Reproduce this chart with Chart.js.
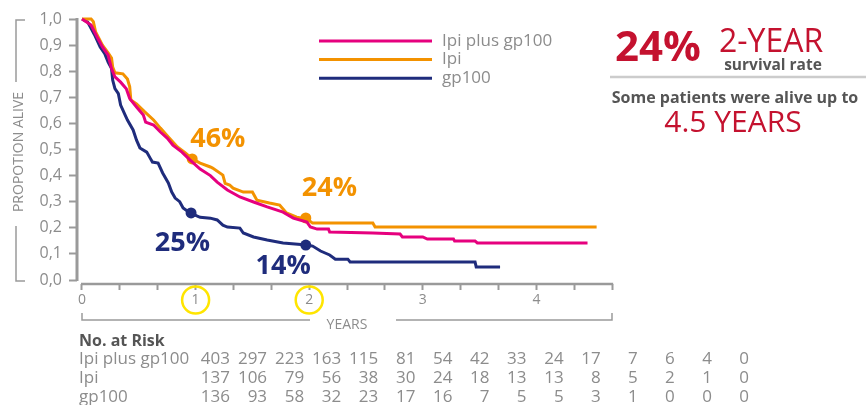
<!DOCTYPE html>
<html lang="en">
<head>
<meta charset="UTF-8">
<title>Overall survival - Ipi plus gp100 / Ipi / gp100</title>
<script src="https://cdn.jsdelivr.net/npm/chart.js"></script>
<style>
  body { margin: 0; padding: 0; background: #ffffff; }
  .wrap { position: relative; width: 866px; height: 405px; }
</style>
</head>
<body>
<div class="wrap"><canvas id="km" width="866" height="405"></canvas></div>
<script>
// survival curves, time in years, proportion alive
const comboT = [0, 0.08, 0.14, 0.18, 0.23, 0.26, 0.29, 0.34, 0.39, 0.42, 0.48, 0.54, 0.56, 0.63, 0.69, 0.75, 0.80, 0.88, 0.95, 1.04,
  1.13, 1.19, 1.28, 1.39, 1.51, 1.63, 1.77, 1.86, 1.98, 2.01, 2.07, 2.17, 2.18, 2.56, 2.80, 2.82, 3.00, 3.04, 3.27, 3.28, 3.46, 3.48, 4.45];
const comboS = [1.0, 0.977, 0.925, 0.893, 0.862, 0.81, 0.778, 0.758, 0.733, 0.695, 0.663, 0.632, 0.605, 0.594, 0.567, 0.544, 0.517, 0.49, 0.46, 0.425,
  0.40, 0.375, 0.345, 0.318, 0.299, 0.28, 0.26, 0.237, 0.222, 0.203, 0.195, 0.195, 0.184, 0.18, 0.176, 0.165, 0.165, 0.157, 0.157, 0.149, 0.149, 0.142, 0.142];

const ipiT = [0, 0.08, 0.10, 0.12, 0.18, 0.23, 0.26, 0.27, 0.29, 0.36, 0.40, 0.42, 0.43, 0.48, 0.55, 0.63, 0.69, 0.76, 0.84, 0.91,
  0.97, 1.04, 1.13, 1.15, 1.24, 1.26, 1.30, 1.33, 1.42, 1.50, 1.54, 1.65, 1.74, 1.80, 1.89, 1.98, 2.03, 2.56, 2.58, 4.53];
const ipiS = [1.0, 1.0, 0.99, 0.95, 0.90, 0.87, 0.85, 0.816, 0.794, 0.79, 0.77, 0.74, 0.69, 0.675, 0.645, 0.613, 0.582, 0.548, 0.51, 0.487,
  0.464, 0.448, 0.433, 0.429, 0.402, 0.37, 0.364, 0.352, 0.337, 0.337, 0.306, 0.295, 0.287, 0.257, 0.241, 0.234, 0.218, 0.218, 0.203, 0.203];

const gpT = [0, 0.05, 0.11, 0.16, 0.20, 0.23, 0.26, 0.27, 0.29, 0.32, 0.34, 0.38, 0.40, 0.45, 0.48, 0.51, 0.57, 0.60, 0.62, 0.67,
  0.71, 0.76, 0.79, 0.82, 0.86, 0.89, 0.95, 1.04, 1.13, 1.19, 1.24, 1.28, 1.39, 1.42, 1.51, 1.63, 1.77, 1.98, 2.03, 2.10,
  2.18, 2.23, 2.34, 2.36, 3.46, 3.47, 3.68];
const gpS = [1.0, 0.988, 0.94, 0.893, 0.867, 0.835, 0.81, 0.766, 0.733, 0.714, 0.67, 0.632, 0.613, 0.575, 0.536, 0.506, 0.49, 0.467, 0.452, 0.448,
  0.41, 0.372, 0.337, 0.314, 0.30, 0.276, 0.257, 0.24, 0.237, 0.23, 0.21, 0.203, 0.199, 0.18, 0.165, 0.153, 0.142, 0.134, 0.13, 0.111,
  0.096, 0.08, 0.08, 0.069, 0.069, 0.05, 0.05];

// highlighted 1- and 2-year points
const ipiMarkT = [0.97, 1.97];
const ipiMarkS = [0.464, 0.238];
const ipiMarkText = ['46%', '24%'];
const gpMarkT = [0.96, 1.97];
const gpMarkS = [0.257, 0.134];
const gpMarkText = ['25%', '14%'];

// axes
const yTicks = [0, 0.1, 0.2, 0.3, 0.4, 0.5, 0.6, 0.7, 0.8, 0.9, 1.0];
const xTickMonths = [0, 4, 8, 12, 16, 20, 24, 28, 32, 36, 40, 44, 48, 52, 56];
const circledYears = [1, 2];

// number at risk table
const riskRows = ['Ipi plus gp100', 'Ipi', 'gp100'];
const riskCombo = [403, 297, 223, 163, 115, 81, 54, 42, 33, 24, 17, 7, 6, 4, 0];
const riskIpi = [137, 106, 79, 56, 38, 30, 24, 18, 13, 13, 8, 5, 2, 1, 0];
const riskGp = [136, 93, 58, 32, 23, 17, 16, 7, 5, 5, 3, 1, 0, 0, 0];

const PINK = '#e6007e', ORANGE = '#f39200', NAVY = '#1f2c7c', RED = '#c4122f';
const GREY = '#8c8c8c', DARK = '#555555', AXIS = '#9a9a9a';
const FONT = "'Open Sans', sans-serif";

const toPoints = (t, s) => t.map((v, i) => ({ x: v, y: s[i] }));

const extras = {
  id: 'extras',
  afterDraw(chart) {
    const ctx = chart.ctx;
    const xs = chart.scales.x, ys = chart.scales.y;
    const ca = chart.chartArea;
    ctx.save();

    // axis lines
    ctx.strokeStyle = AXIS;
    ctx.lineWidth = 3;
    ctx.beginPath();
    ctx.moveTo(ca.left, ys.getPixelForValue(1) - 1);
    ctx.lineTo(ca.left, ys.getPixelForValue(0) + 1);
    ctx.stroke();
    ctx.lineWidth = 2.5;
    ctx.beginPath();
    ctx.moveTo(xs.getPixelForValue(0) - 1, ca.bottom);
    ctx.lineTo(xs.getPixelForValue(56 / 12) + 1, ca.bottom);
    ctx.stroke();

    // yellow circles round year 1 and 2
    ctx.strokeStyle = '#ffe500';
    ctx.lineWidth = 2.5;
    circledYears.forEach(v => {
      ctx.beginPath();
      ctx.arc(xs.getPixelForValue(v), 300, 13.5, 0, Math.PI * 2);
      ctx.stroke();
    });

    // YEARS bracket
    ctx.strokeStyle = AXIS;
    ctx.lineWidth = 1.5;
    ctx.beginPath();
    ctx.moveTo(82, 313); ctx.lineTo(82, 320); ctx.lineTo(310, 320);
    ctx.moveTo(396, 320); ctx.lineTo(612, 320); ctx.lineTo(612, 313);
    ctx.stroke();
    ctx.fillStyle = GREY;
    ctx.font = '14px ' + FONT;
    ctx.textAlign = 'center';
    ctx.textBaseline = 'alphabetic';
    ctx.fillText('YEARS', 347, 329);

    // y title bracket
    ctx.beginPath();
    ctx.moveTo(25, 20); ctx.lineTo(16, 20); ctx.lineTo(16, 82);
    ctx.moveTo(16, 226); ctx.lineTo(16, 281); ctx.lineTo(25, 281);
    ctx.stroke();
    ctx.save();
    ctx.translate(19, 152);
    ctx.rotate(-Math.PI / 2);
    ctx.textBaseline = 'middle';
    ctx.fillText('PROPOTION ALIVE', 0, 0);
    ctx.restore();

    // legend
    ctx.textAlign = 'left';
    ctx.textBaseline = 'middle';
    ctx.font = '17px ' + FONT;
    [0, 1, 2].forEach((di, i) => {
      const ds = chart.data.datasets[di];
      const y = 41 + i * 18.6;
      ctx.strokeStyle = ds.borderColor;
      ctx.lineWidth = 3;
      ctx.beginPath();
      ctx.moveTo(319, y); ctx.lineTo(432, y);
      ctx.stroke();
      ctx.fillStyle = GREY;
      ctx.fillText(ds.label, 442, y);
    });

    // marker labels
    const labelStyle = [
      { ds: 3, idx: 0, dx: -2, dy: -20, align: 'left' },
      { ds: 3, idx: 1, dx: -4, dy: -30, align: 'left' },
      { ds: 4, idx: 0, dx: 19, dy: 30, align: 'right' },
      { ds: 4, idx: 1, dx: 5, dy: 21, align: 'right' }
    ];
    ctx.font = 'bold 27px ' + FONT;
    labelStyle.forEach(st => {
      const pt = chart.getDatasetMeta(st.ds).data[st.idx];
      const ds = chart.data.datasets[st.ds];
      ctx.fillStyle = ds.backgroundColor;
      ctx.textAlign = st.align;
      ctx.fillText(ds.texts[st.idx], pt.x + st.dx, pt.y + st.dy);
    });

    // right panel
    ctx.textBaseline = 'alphabetic';
    ctx.textAlign = 'left';
    ctx.fillStyle = RED;
    ctx.font = 'bold 42px ' + FONT;
    ctx.fillText('24%', 615, 61);
    ctx.font = '32px ' + FONT;
    ctx.fillText('2-YEAR', 719, 52);
    ctx.fillStyle = DARK;
    ctx.font = 'bold 15.5px ' + FONT;
    ctx.textAlign = 'center';
    ctx.fillText('survival rate', 773, 70);
    ctx.strokeStyle = '#cccccc';
    ctx.lineWidth = 2.5;
    ctx.beginPath();
    ctx.moveTo(610, 77); ctx.lineTo(866, 77);
    ctx.stroke();
    ctx.font = 'bold 16px ' + FONT;
    ctx.fillText('Some patients were alive up to', 735, 103);
    ctx.fillStyle = RED;
    ctx.font = '30px ' + FONT;
    ctx.fillText('4.5 YEARS', 733, 132);

    // number at risk
    ctx.textAlign = 'left';
    ctx.fillStyle = DARK;
    ctx.font = 'bold 16px ' + FONT;
    ctx.fillText('No. at Risk', 79, 346);
    ctx.font = '17px ' + FONT;
    ctx.fillStyle = GREY;
    [riskCombo, riskIpi, riskGp].forEach((row, r) => {
      const by = 364 + r * 19;
      ctx.textAlign = 'left';
      ctx.fillText(riskRows[r], 79, by);
      ctx.textAlign = 'right';
      row.forEach((n, c) => ctx.fillText(String(n), 230 + c * 37.07, by));
    });

    ctx.restore();
  }
};

new Chart(document.getElementById('km'), {
  type: 'line',
  data: {
    datasets: [
      { label: 'Ipi plus gp100', data: toPoints(comboT, comboS), borderColor: PINK, borderWidth: 3, pointRadius: 0, tension: 0, clip: false },
      { label: 'Ipi', data: toPoints(ipiT, ipiS), borderColor: ORANGE, borderWidth: 3, pointRadius: 0, tension: 0, clip: false },
      { label: 'gp100', data: toPoints(gpT, gpS), borderColor: NAVY, borderWidth: 3, pointRadius: 0, tension: 0, clip: false },
      { type: 'scatter', label: 'Ipi marks', data: toPoints(ipiMarkT, ipiMarkS), texts: ipiMarkText, showLine: false,
        backgroundColor: ORANGE, borderColor: ORANGE, pointRadius: 5.5, borderWidth: 0 },
      { type: 'scatter', label: 'gp100 marks', data: toPoints(gpMarkT, gpMarkS), texts: gpMarkText, showLine: false,
        backgroundColor: NAVY, borderColor: NAVY, pointRadius: 5.5, borderWidth: 0 }
    ]
  },
  options: {
    responsive: false,
    animation: false,
    layout: { padding: { left: 0, top: 19, right: 252, bottom: 0 } },
    plugins: { legend: { display: false }, tooltip: { enabled: false } },
    scales: {
      x: {
        type: 'linear',
        min: -0.044,
        max: 4.683,
        afterBuildTicks: s => { s.ticks = xTickMonths.map(m => ({ value: m / 12 })); },
        afterFit: s => { s.height = 121; },
        border: { display: false },
        grid: { drawOnChartArea: false, drawTicks: true, tickLength: 6, tickWidth: 2, tickColor: AXIS },
        ticks: {
          autoSkip: false, maxRotation: 0, padding: 2, color: GREY,
          font: { family: FONT, size: 14 },
          callback: v => Math.abs(v - Math.round(v)) < 1e-6 ? String(Math.round(v)) : ''
        }
      },
      y: {
        min: -0.0153,
        max: 1.0,
        afterBuildTicks: s => { s.ticks = yTicks.map(v => ({ value: v })); },
        afterFit: s => { s.width = 77; },
        border: { display: false },
        grid: { drawOnChartArea: false, drawTicks: true, tickLength: 8, tickWidth: 2, tickColor: AXIS },
        ticks: {
          padding: 7, color: GREY,
          font: { family: FONT, size: 16 },
          callback: v => v.toFixed(1).replace('.', ',')
        }
      }
    }
  },
  plugins: [extras]
});
</script>
</body>
</html>
